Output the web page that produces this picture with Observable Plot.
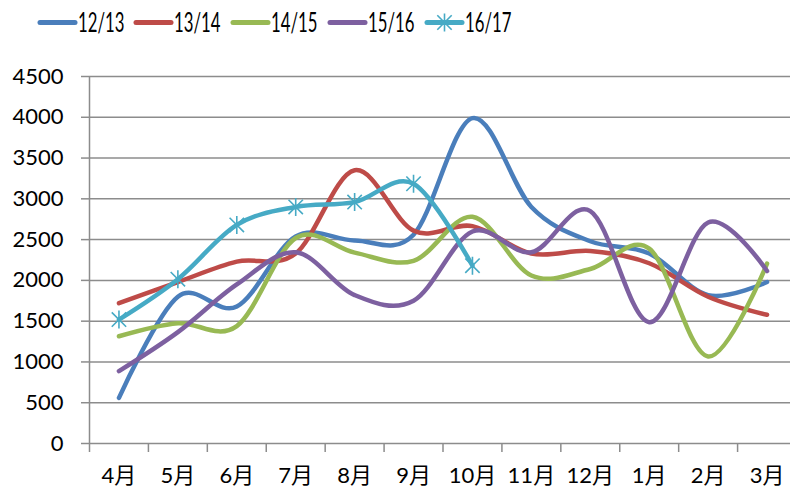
<!DOCTYPE html>
<html><head><meta charset="utf-8">
<script src="https://cdn.jsdelivr.net/npm/d3@7"></script>
<script src="https://cdn.jsdelivr.net/npm/@observablehq/plot@0.6"></script>
<style>
html,body{margin:0;padding:0;background:#fff;overflow:hidden;width:790px;height:491px}
#legend{display:block}
#chart svg{display:block;overflow:hidden}
</style></head><body>
<svg id="legend" width="790" height="60"></svg>
<div id="chart"></div>
<script>
const months = ["4月","5月","6月","7月","8月","9月","10月","11月","12月","1月","2月","3月"];
const seriesNames = ["12/13","13/14","14/15","15/16","16/17"];
const colors = ["#4A7EBB","#BE4B48","#98B954","#7D60A0","#46AAC5"];
const s1213 = [560,1800,1680,2540,2490,2560,3990,2900,2480,2330,1820,1980];
const s1314 = [1720,1980,2230,2330,3350,2610,2665,2330,2360,2210,1800,1578];
const s1415 = [1315,1475,1440,2520,2340,2240,2780,2060,2140,2390,1067,2205];
const s1516 = [887,1365,1950,2345,1820,1750,2600,2345,2850,1487,2710,2115];
const s1617 = [1520,2015,2680,2900,2960,3185,2180];
const yTicks = [0,500,1000,1500,2000,2500,3000,3500,4000,4500];

const allSeries = [s1213,s1314,s1415,s1516,s1617];
const data = [];
allSeries.forEach((vals, k) => vals.forEach((v, i) => data.push({series: seriesNames[k], month: months[i], idx: i + 0.5, value: v})));
const cyanData = data.filter(d => d.series === "16/17");

const star = {
  draw(context, size) {
    const r = Math.sqrt(size / Math.PI);
    const d = r * 0.8;
    context.moveTo(0, -r); context.lineTo(0, r);
    context.moveTo(-d, -d); context.lineTo(d, d);
    context.moveTo(-d, d); context.lineTo(d, -d);
  }
};

const gray = "#8c8c8c";
const font = "Lato, 'Noto Sans CJK SC', sans-serif";

const chart = Plot.plot({
  width: 790,
  height: 431,
  marginTop: 16,
  marginBottom: 48,
  marginLeft: 89,
  marginRight: 0,
  style: {fontFamily: font, fontSize: "22px", color: "#000", background: "#fff"},
  x: {type: "linear", domain: [0, 12], range: [89, 796]},
  y: {domain: [0, 4500]},
  color: {domain: seriesNames, range: colors},
  marks: [
    Plot.gridY(yTicks, {stroke: gray, strokeOpacity: 1, strokeWidth: 1.5}),
    Plot.ruleX([0], {stroke: gray, strokeWidth: 1.5}),
    Plot.axisY({ticks: yTicks, tickSize: 8, tickPadding: 18, tickFormat: d => String(d), stroke: gray, strokeWidth: 1.5, label: null, fill: "#000", fontSize: 22}),
    Plot.axisX({ticks: d3.range(0, 13), tickSize: 9, tickFormat: () => "", stroke: gray, strokeWidth: 1.5, label: null}),
    Plot.axisX({ticks: months.map((m, i) => i + 0.5), tickSize: 0, tickPadding: 24, tickFormat: (d) => months[Math.floor(d)], label: null, fill: "#000", fontSize: 22}),
    Plot.line(data, {x: "idx", y: "value", z: "series", stroke: "series", curve: "cardinal", strokeWidth: 4.5, strokeLinecap: "round", strokeLinejoin: "round"}),
    Plot.dot(cyanData, {x: "idx", y: "value", symbol: star, r: 9, stroke: colors[4], strokeWidth: 1.6, fill: "none"})
  ]
});
document.getElementById("chart").appendChild(chart);

// legend
const lg = d3.select("#legend");
const startX = [40, 136, 233, 330, 427];
seriesNames.forEach((name, k) => {
  const g = lg.append("g").attr("transform", `translate(${startX[k]},22.5)`);
  g.append("line").attr("x1", 0).attr("x2", 35).attr("y1", 0).attr("y2", 0)
    .attr("stroke", colors[k]).attr("stroke-width", 5).attr("stroke-linecap", "round");
  if (k === 4) {
    const r = 9, d = 7.2;
    g.append("path").attr("d", `M17.5,${-r}L17.5,${r}M${17.5-d},${-d}L${17.5+d},${d}M${17.5-d},${d}L${17.5+d},${-d}`)
      .attr("stroke", colors[k]).attr("stroke-width", 1.6).attr("fill", "none");
  }
  g.append("text").attr("transform", "translate(38,0) scale(0.62,1)")
    .attr("dy", "0.36em").attr("font-family", font).attr("font-size", 27).attr("fill", "#000").text(name);
});
</script>
</body></html>
